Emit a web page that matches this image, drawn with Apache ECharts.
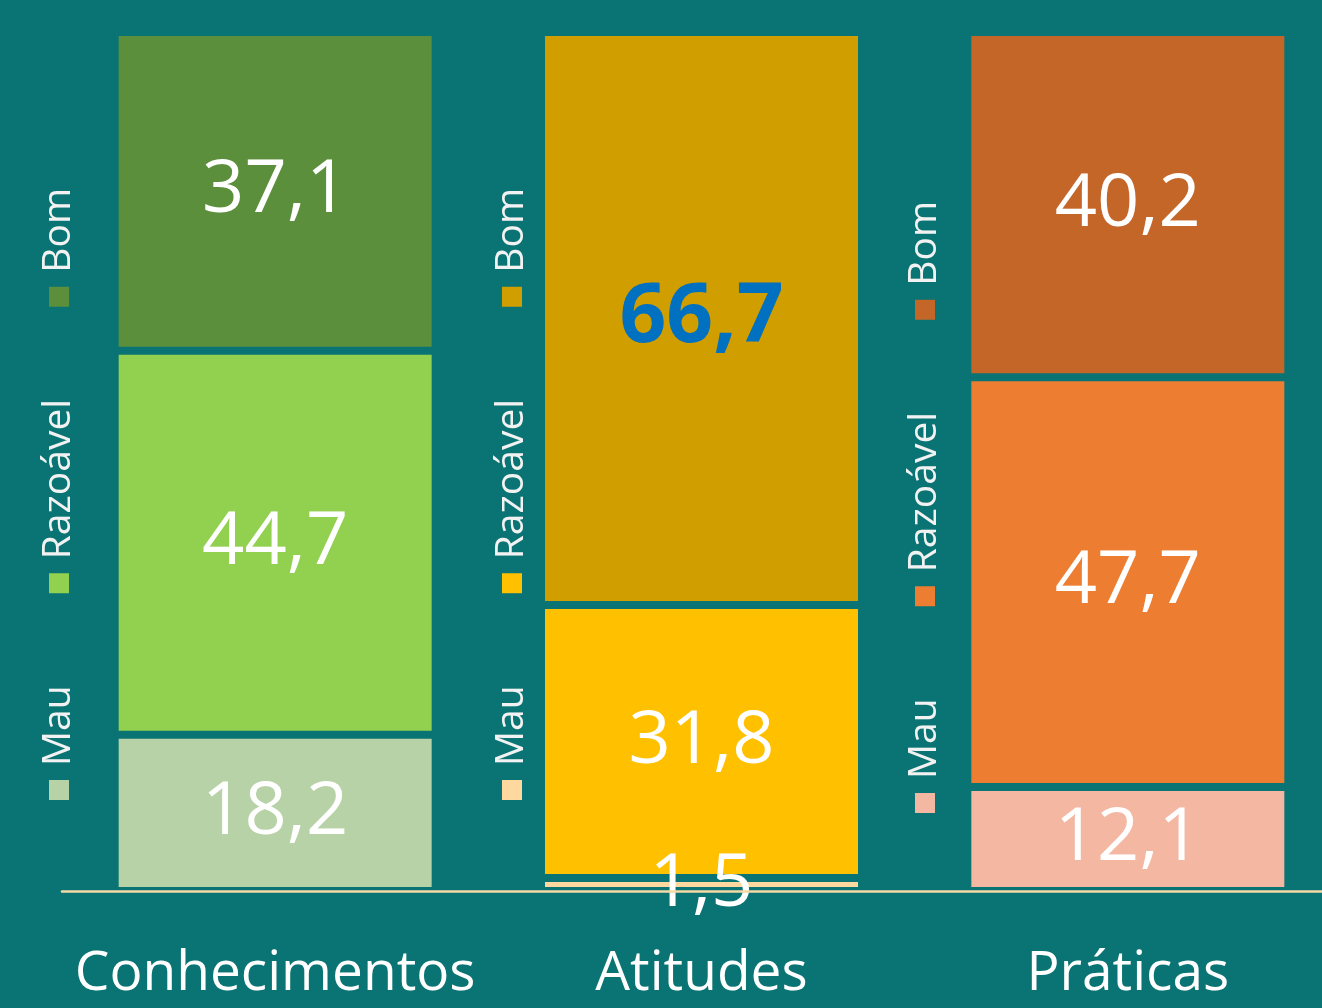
<!DOCTYPE html>
<html>
<head>
<meta charset="utf-8">
<script src="https://cdn.jsdelivr.net/npm/echarts@6/dist/echarts.min.js"></script>
<style>
  html, body { margin: 0; padding: 0; background: #0a7373; overflow: hidden; }
  #chart { width: 1341px; height: 1008px; }
</style>
</head>
<body>
<div id="chart"></div>
<script>
// data
const categories = ['Conhecimentos', 'Atitudes', 'Práticas']
const levels = ['Mau', 'Razoável', 'Bom']
const mau = [18.2, 1.5, 12.1]
const razoavel = [44.7, 31.8, 47.7]
const bom = [37.1, 66.7, 40.2]

// colours per category, in the order of levels (Mau, Razoável, Bom)
const palette = [
  ['#b8d2a8', '#92d050', '#5b8f3b'],
  ['#ffd8a0', '#ffc000', '#d19e00'],
  ['#f4b7a2', '#ed7d31', '#c46628']
]
const bg = '#0a7373'
const font = '"Open Sans", "Noto Sans", sans-serif'

// legend columns beside each bar (screen x, bottom y of the first swatch)
const legendPos = [
  { x: 59, y: 800 },
  { x: 512, y: 800 },
  { x: 925, y: 813 }
]
const legendSpan = 612
const legendFontSize = 39

const chart = echarts.init(document.getElementById('chart'))

const fmt = p => String(p.value).replace('.', ',')

const makeSeries = (name, values, lvl) => ({
  name,
  type: 'bar',
  stack: 'total',
  barWidth: 321,
  data: values.map((v, i) => {
    const item = { value: v, itemStyle: { color: palette[i][lvl] } }
    // the highlighted figure in the Atitudes bar
    if (i === 1 && lvl === 2) {
      item.label = { color: '#0070c0', fontWeight: 'bold', fontSize: 82 }
    }
    return item
  }),
  itemStyle: { borderColor: bg, borderWidth: 4 },
  label: {
    show: true,
    position: 'inside',
    formatter: fmt,
    color: '#fff',
    fontSize: 74,
    fontFamily: font
  }
})

// rotated legends, laid out along the column from bottom to top
const ctx = document.createElement('canvas').getContext('2d')
ctx.font = legendFontSize + 'px ' + font
const sw = 20, pad = 14
const widths = levels.map(t => ctx.measureText(t).width)
const itemLen = widths.map(w => sw + pad + w)
const gap = (legendSpan - itemLen.reduce((a, b) => a + b, 0)) / (levels.length - 1)

const legendGraphics = legendPos.map((pos, ci) => {
  const children = []
  let off = 0
  levels.forEach((t, li) => {
    children.push({
      type: 'rect',
      shape: { x: off, y: -sw / 2, width: sw, height: sw },
      style: { fill: palette[ci][li] }
    })
    children.push({
      type: 'text',
      style: {
        x: off + sw + pad,
        y: 0,
        text: t,
        fill: '#f2f2f2',
        font: legendFontSize + 'px ' + font,
        textAlign: 'left',
        textVerticalAlign: 'middle'
      }
    })
    off += itemLen[li] + gap
  })
  return {
    type: 'group',
    x: pos.x,
    y: pos.y,
    rotation: Math.PI / 2,
    children
  }
})

chart.setOption({
  backgroundColor: bg,
  animation: false,
  grid: { left: 62, right: 0, top: 32, bottom: 117 },
  xAxis: {
    type: 'category',
    data: categories,
    z: 3,
    axisLine: { lineStyle: { color: '#f4daa6', width: 2.5 } },
    axisTick: { show: false },
    axisLabel: {
      color: '#fff',
      fontSize: 55,
      fontFamily: font,
      lineHeight: 60,
      margin: 53,
      interval: 0
    }
  },
  yAxis: {
    type: 'value',
    min: 0,
    max: 100,
    show: false
  },
  series: [
    makeSeries(levels[0], mau, 0),
    makeSeries(levels[1], razoavel, 1),
    makeSeries(levels[2], bom, 2)
  ],
  graphic: legendGraphics
})

window.addEventListener('resize', () => chart.resize())
</script>
</body>
</html>
